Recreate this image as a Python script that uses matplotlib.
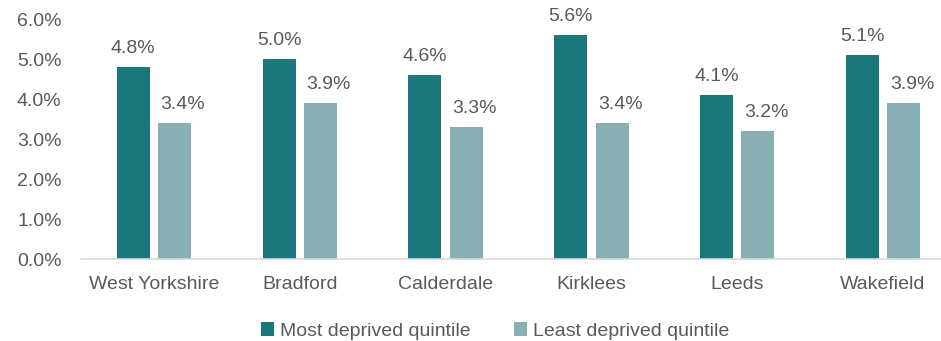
import matplotlib.pyplot as plt
from matplotlib.ticker import FuncFormatter

# Share of people by deprivation quintile, per district
areas = ["West Yorkshire", "Bradford", "Calderdale", "Kirklees", "Leeds", "Wakefield"]
most_deprived = [4.8, 5.0, 4.6, 5.6, 4.1, 5.1]
least_deprived = [3.4, 3.9, 3.3, 3.4, 3.2, 3.9]

dark = "#1A787C"
light = "#88B0B3"
grey = "#595959"

plt.rcParams["font.family"] = ["Liberation Sans", "DejaVu Sans"]

fig = plt.figure(figsize=(9.41, 3.41), dpi=100)
ax = fig.add_axes([81 / 941, 82 / 341, 875 / 941, 240 / 341])

x = range(len(areas))
w = 0.226
off = 0.142
b1 = ax.bar([i - off for i in x], most_deprived, w, color=dark, label="Most deprived quintile")
b2 = ax.bar([i + off for i in x], least_deprived, w, color=light, label="Least deprived quintile")

# value labels; the light-bar labels sit slightly to the right
for bars, vals, dx in ((b1, most_deprived, 0), (b2, least_deprived, 6)):
    for bar, v in zip(bars, vals):
        ax.annotate(f"{v:.1f}%", (bar.get_x() + bar.get_width() / 2, v),
                    xytext=(dx, 7), textcoords="offset points",
                    ha="center", va="bottom", fontsize=14, color=grey)

ax.set_xlim(-0.5, len(areas) - 0.5)
ax.set_ylim(0, 6)
ax.set_yticks([0, 1, 2, 3, 4, 5, 6])
ax.yaxis.set_major_formatter(FuncFormatter(lambda v, _: f"{v:.1f}%"))
ax.set_xticks(list(x))
ax.set_xticklabels(areas)
ax.tick_params(axis="both", length=0, labelsize=14, labelcolor=grey)
ax.tick_params(axis="x", pad=12)
ax.tick_params(axis="y", pad=14)

for s in ("top", "right", "left"):
    ax.spines[s].set_visible(False)
ax.spines["bottom"].set_color("#D9D9D9")
ax.spines["bottom"].set_linewidth(1.2)

fig.legend(handles=[b1, b2], loc="center", bbox_to_anchor=(495 / 941, 1 - 331 / 341),
           ncol=2, frameon=False, fontsize=14, labelcolor=grey,
           handlelength=0.7, handleheight=0.7, handletextpad=0.3, columnspacing=2.2)

fig.savefig("out.png", dpi=100)
